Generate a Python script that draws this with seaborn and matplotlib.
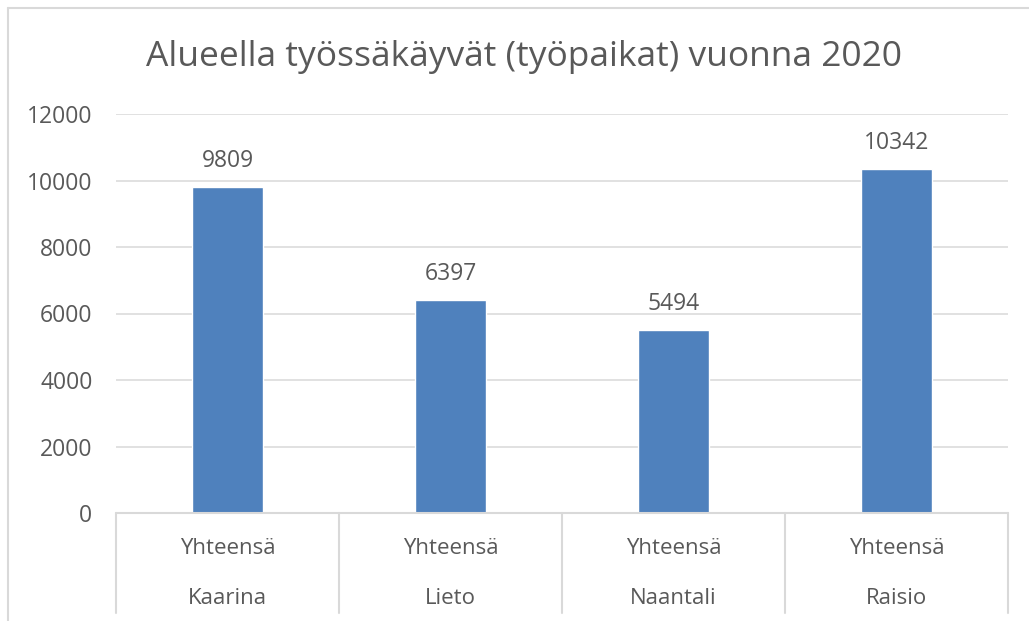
import numpy as np
import pandas as pd
import seaborn as sns
import matplotlib.pyplot as plt
from matplotlib.lines import Line2D

# chart data
kunnat = ["Kaarina", "Lieto", "Naantali", "Raisio"]
ryhma = ["Yhteensä", "Yhteensä", "Yhteensä", "Yhteensä"]
tyopaikat = [9809, 6397, 5494, 10342]
y_ticks = [0, 2000, 4000, 6000, 8000, 10000, 12000]

df = pd.DataFrame({"kunta": kunnat, "ryhma": ryhma, "tyopaikat": tyopaikat})

sns.set_style("white")
plt.rcParams["font.family"] = ["Open Sans", "DejaVu Sans"]

W, H = 1029, 621
fig = plt.figure(figsize=(W / 100, H / 100), dpi=100)
ax = fig.add_axes([116 / W, (H - 513) / H, 892 / W, 399 / H])

grey_txt = "#595959"
grey_line = "#d9d9d9"

sns.barplot(data=df, x="kunta", y="tyopaikat", color="#4f81bd", saturation=1,
            width=0.314, ax=ax, zorder=3)

ax.set_xlim(-0.5, 3.5)
ax.set_ylim(0, 12000)
ax.set_yticks(y_ticks)
ax.set_yticklabels([str(t) for t in y_ticks], fontsize=16.5, color=grey_txt)
ax.tick_params(axis="y", length=0, pad=17)
ax.set_xticks([])
ax.set_xlabel("")
ax.set_ylabel("")
for s in ax.spines.values():
    s.set_visible(False)
ax.yaxis.grid(True, color=grey_line, linewidth=1.1, zorder=0)
ax.set_axisbelow(True)

# value labels
ax.bar_label(ax.containers[0], labels=[str(v) for v in tyopaikat],
             padding=10, fontsize=16.5, color=grey_txt)

# multi-level category axis
tr = ax.get_xaxis_transform()
ax.plot([-0.5, 3.5], [0, 0], transform=tr, color=grey_line, lw=1.5,
        clip_on=False, zorder=4)
for b in np.arange(-0.5, 4.0, 1.0):
    ax.plot([b, b], [0, -0.25], transform=tr, color=grey_line, lw=1.5,
            clip_on=False)
for i, (r, k) in enumerate(zip(ryhma, kunnat)):
    ax.text(i, -35 / 399, r, transform=tr, ha="center", va="center",
            fontsize=16, color=grey_txt)
    ax.text(i, -85 / 399, k, transform=tr, ha="center", va="center",
            fontsize=16, color=grey_txt)

fig.text(524 / W, 1 - 57 / H, "Alueella työssäkäyvät (työpaikat) vuonna 2020",
         ha="center", va="center", fontsize=25.5, color=grey_txt)

# outer chart frame (left and top edges visible)
fig.add_artist(Line2D([8 / W, 8 / W], [0, 1 - 8 / H], color=grey_line, lw=1.5))
fig.add_artist(Line2D([8 / W, 1], [1 - 8 / H, 1 - 8 / H], color=grey_line, lw=1.5))

fig.savefig("out.png", dpi=100)
